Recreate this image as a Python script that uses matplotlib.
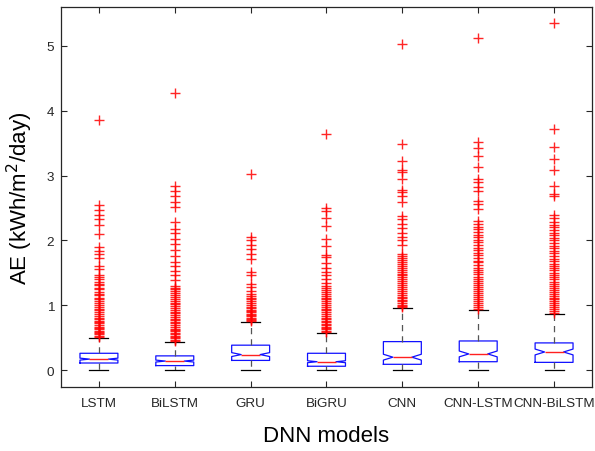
import matplotlib
matplotlib.use("Agg")
import matplotlib.pyplot as plt

plt.rcParams['font.family'] = ['Liberation Sans', 'DejaVu Sans']

models = ["LSTM", "BiLSTM", "GRU", "BiGRU", "CNN", "CNN-LSTM", "CNN-BiLSTM"]
q1 = [0.11, 0.07, 0.15, 0.06, 0.09, 0.13, 0.12]
med = [0.17, 0.14, 0.24, 0.13, 0.20, 0.25, 0.28]
q3 = [0.26, 0.22, 0.385, 0.26, 0.44, 0.45, 0.42]
whislo = [0.0, 0.0, 0.0, 0.0, 0.0, 0.0, 0.0]
whishi = [0.49, 0.43, 0.74, 0.57, 0.96, 0.93, 0.87]
notch_half = [0.015, 0.015, 0.03, 0.015, 0.045, 0.045, 0.045]

out_lstm = [3.86, 2.54, 2.47, 2.39, 2.33, 2.24, 2.10, 1.90, 1.84, 1.79, 1.73, 1.60,
            1.56, 1.46, 1.43, 1.41, 1.36, 1.33, 1.31, 1.27, 1.25, 1.21, 1.18, 1.16,
            1.12, 1.09, 1.07, 1.03, 1.01, 0.97, 0.95, 0.92, 0.89, 0.86, 0.84, 0.81,
            0.79, 0.76, 0.74, 0.72, 0.69, 0.67, 0.65, 0.63, 0.61, 0.59, 0.57, 0.55,
            0.53, 0.51]
out_bilstm = [4.28, 2.84, 2.77, 2.69, 2.60, 2.51, 2.28, 2.18, 2.11, 2.03, 1.94, 1.86,
              1.76, 1.67, 1.61, 1.53, 1.46, 1.39, 1.30, 1.27, 1.25, 1.22, 1.19, 1.16,
              1.13, 1.10, 1.07, 1.04, 1.02, 0.99, 0.96, 0.93, 0.90, 0.88, 0.85, 0.82,
              0.79, 0.77, 0.74, 0.72, 0.69, 0.67, 0.64, 0.62, 0.60, 0.57, 0.55, 0.53,
              0.51, 0.49, 0.47, 0.45]
out_gru = [3.02, 2.05, 2.00, 1.93, 1.87, 1.79, 1.71, 1.51, 1.47, 1.33, 1.28, 1.22,
           1.18, 1.15, 1.12, 1.09, 1.06, 1.03, 1.01, 0.98, 0.96, 0.93, 0.91, 0.89,
           0.87, 0.85, 0.83, 0.81, 0.79, 0.77, 0.76]
out_bigru = [3.64, 2.50, 2.45, 2.35, 2.23, 2.02, 1.92, 1.78, 1.75, 1.65, 1.57, 1.52,
             1.47, 1.40, 1.35, 1.30, 1.27, 1.24, 1.21, 1.18, 1.15, 1.12, 1.09, 1.06,
             1.03, 1.00, 0.98, 0.95, 0.92, 0.89, 0.87, 0.84, 0.81, 0.79, 0.76, 0.74,
             0.71, 0.69, 0.67, 0.65, 0.63, 0.61, 0.59]
out_cnn = [5.03, 3.49, 3.22, 3.09, 3.05, 2.94, 2.78, 2.74, 2.69, 2.59, 2.37, 2.33,
           2.25, 2.19, 2.12, 2.06, 2.01, 1.93, 1.79, 1.76, 1.73, 1.70, 1.67, 1.64,
           1.61, 1.58, 1.55, 1.52, 1.49, 1.46, 1.43, 1.40, 1.37, 1.34, 1.31, 1.28,
           1.25, 1.22, 1.19, 1.16, 1.13, 1.11, 1.08, 1.06, 1.03, 1.01, 0.99, 0.97]
out_cnnlstm = [5.12, 3.52, 3.42, 3.30, 3.14, 2.95, 2.90, 2.82, 2.77, 2.61, 2.56, 2.48,
               2.30, 2.25, 2.21, 2.17, 2.13, 2.09, 2.05, 2.01, 1.97, 1.93, 1.89, 1.85,
               1.81, 1.77, 1.73, 1.69, 1.66, 1.62, 1.58, 1.55, 1.51, 1.48, 1.44, 1.41,
               1.37, 1.34, 1.31, 1.28, 1.25, 1.22, 1.19, 1.16, 1.13, 1.10, 1.07, 1.04,
               1.01, 0.98, 0.95]
out_cnnbilstm = [5.35, 3.72, 3.44, 3.25, 3.08, 2.84, 2.72, 2.69, 2.39, 2.34, 2.28,
                 2.24, 2.20, 2.16, 2.12, 2.08, 2.04, 2.00, 1.96, 1.92, 1.88, 1.84,
                 1.80, 1.76, 1.72, 1.68, 1.64, 1.61, 1.57, 1.54, 1.50, 1.47, 1.43,
                 1.40, 1.36, 1.33, 1.30, 1.27, 1.24, 1.21, 1.18, 1.15, 1.12, 1.09,
                 1.06, 1.03, 1.00, 0.97, 0.94, 0.91, 0.88]
outliers = [out_lstm, out_bilstm, out_gru, out_bigru, out_cnn, out_cnnlstm, out_cnnbilstm]

stats = []
for i, name in enumerate(models):
    stats.append(dict(label=name, q1=q1[i], med=med[i], q3=q3[i],
                      whislo=whislo[i], whishi=whishi[i],
                      cilo=med[i] - notch_half[i], cihi=med[i] + notch_half[i],
                      fliers=outliers[i]))

fig = plt.figure(figsize=(5.95, 4.52), dpi=100)
ax = fig.add_axes([61/595, 1 - 388/452, (592 - 61)/595, (388 - 8)/452])

ax.bxp(stats, positions=range(1, len(models) + 1), widths=0.5, shownotches=True,
       showfliers=True, capwidths=0.25,
       boxprops=dict(color='#1010ff', linewidth=0.9),
       medianprops=dict(color='#ff2020', linewidth=1.0),
       whiskerprops=dict(color='#555555', linestyle=(0, (5, 4)), linewidth=0.9),
       capprops=dict(color='black', linewidth=0.9),
       flierprops=dict(marker='+', markeredgecolor='red', markersize=7.5,
                       markeredgewidth=1.0, linestyle='none', alpha=0.85))

ax.set_xlim(0.5, 7.5)
ax.set_ylim(-0.26, 5.6)
ax.set_yticks([0, 1, 2, 3, 4, 5])
ax.set_xticks(range(1, len(models) + 1))
ax.set_xticklabels(models)
ax.tick_params(direction='in', length=4, width=0.8, top=True, right=True,
               labelsize=9.7, colors='#262626', pad=7)
ax.tick_params(axis='y', pad=5)
for s in ax.spines.values():
    s.set_color('#262626')
    s.set_linewidth(0.9)

ax.set_ylabel('AE (kWh/m$^2$/day)', fontsize=16, color='black', labelpad=8)
ax.set_xlabel('DNN models', fontsize=16, color='black', labelpad=12)

fig.savefig('out.png', dpi=100)
